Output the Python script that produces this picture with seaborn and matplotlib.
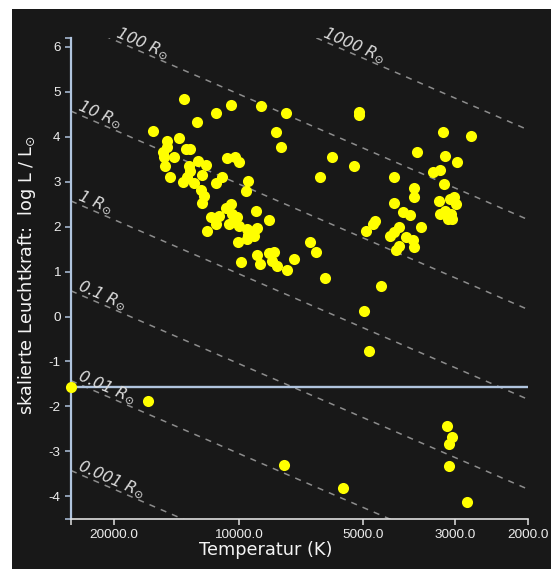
import numpy as np
import pandas as pd
import matplotlib
matplotlib.use("Agg")
import matplotlib.pyplot as plt
import seaborn as sns
from matplotlib.patches import Rectangle
from matplotlib.ticker import NullLocator

# ---------------- data ----------------
temperature = [
    16130, 13540, 12590, 11340, 10460, 8850, 7690, 8120, 7900, 13950,
    14870, 14870, 13370, 13070, 15230, 15130, 14290, 10690, 10210, 9990,
    12520, 12020, 13200, 15020, 13070, 12240, 10990, 14640, 13660, 12850,
    11370, 13310, 12360, 12130, 12240, 9490, 9580, 5950, 6370, 9100,
    10460, 10720, 11630, 11160, 11320, 11950, 10360, 10080, 9990, 10560,
    10270, 10020, 9890, 9570, 9180, 9510, 9020, 9520, 9180, 9040,
    8880, 8450, 8450, 8210, 8290, 8070, 7350, 7620, 6730, 6510,
    6200, 5130, 5130, 5270, 3200, 2740, 3710, 3170, 2970, 3400,
    3270, 3190, 4210, 3770, 3760, 3280, 3080, 3020, 2990, 3260,
    3170, 3070, 3120, 3050, 4220, 4000, 3850, 4690, 4740, 4920,
    3630, 4100, 4210, 4310, 3940, 3800, 3780, 4100, 4160, 4530,
    4990, 4840, 3140, 3050, 3100, 3100, 7770, 5610, 2810, 16580,
    25400,
]
log_luminosity = [
    4.13, 4.85, 4.33, 4.54, 4.70, 4.69, 4.54, 4.11, 3.77, 3.97,
    3.90, 3.78, 3.74, 3.73, 3.67, 3.55, 3.56, 3.54, 3.56, 3.44,
    3.47, 3.38, 3.35, 3.36, 3.24, 3.15, 3.10, 3.11, 3.00, 2.98,
    2.98, 3.10, 2.82, 2.69, 2.53, 3.01, 2.79, 3.56, 3.10, 2.36,
    2.50, 2.42, 2.22, 2.23, 2.05, 1.90, 2.28, 2.21, 2.02, 2.06,
    2.10, 1.67, 1.22, 1.94, 1.91, 1.82, 1.97, 1.72, 1.80, 1.38,
    1.16, 2.15, 1.41, 1.44, 1.24, 1.12, 1.29, 1.03, 1.65, 1.44,
    0.85, 4.56, 4.49, 3.34, 4.10, 4.01, 3.67, 3.57, 3.45, 3.21,
    3.26, 2.96, 3.10, 2.86, 2.66, 2.58, 2.62, 2.66, 2.50, 2.28,
    2.36, 2.28, 2.17, 2.16, 2.52, 2.32, 2.27, 2.13, 2.07, 1.90,
    2.00, 1.99, 1.89, 1.80, 1.76, 1.70, 1.54, 1.58, 1.47, 0.67,
    0.13, -0.77, -2.44, -2.68, -2.83, -3.33, -3.30, -3.82, -4.13, -1.87,
    -1.57,
]
radius_values = [0.001, 0.01, 0.1, 1, 10, 100, 1000]
radius_names = ["0.001", "0.01", "0.1", "1", "10", "100", "1000"]
x_ticks = [20000, 10000, 5000, 3000, 2000]
x_tick_labels = ["20000.0", "10000.0", "5000.0", "3000.0", "2000.0"]
y_ticks = [-4, -3, -2, -1, 0, 1, 2, 3, 4, 5, 6]
T_MAX, T_MIN = 25400, 2000
L_MIN, L_MAX = -4.5, 6.2
marked_level = -1.57
T_SUN = 5778

# ---------------- style ----------------
BG = "#181818"
AXIS_BLUE = "#b0c4de"
TXT = "#ececec"

sns.set_theme(style="dark", rc={"axes.facecolor": BG, "figure.facecolor": "white"})
plt.rcParams["font.family"] = ["DejaVu Sans"]

W, H = 551, 569
fig = plt.figure(figsize=(W / 100, H / 100), dpi=100)
fig.patch.set_facecolor("white")
fig.patches.append(Rectangle((12 / W, 0), (W - 12) / W, (H - 9) / H,
                             transform=fig.transFigure, facecolor=BG,
                             edgecolor="none", zorder=-10))

left, right, top, bottom = 71, 528, 38, 518.7
ax = fig.add_axes([left / W, 1 - bottom / H, (right - left) / W, (bottom - top) / H])
ax.set_facecolor(BG)
ax.set_xscale("log")
ax.set_xlim(T_MAX, T_MIN)
ax.set_ylim(L_MIN, L_MAX)
ax.grid(False)

# radius lines
p1 = ax.transData.transform((T_MAX, 0.0))
p2 = ax.transData.transform((T_MIN, 4 * np.log10(T_MIN / T_MAX)))
angle = np.degrees(np.arctan2(p2[1] - p1[1], p2[0] - p1[0]))

t_grid = np.geomspace(T_MAX, T_MIN, 300)
for R, name in zip(radius_values, radius_names):
    L = 2 * np.log10(R) + 4 * np.log10(t_grid / T_SUN)
    ax.plot(t_grid, L, color="#8c8c8c", lw=1.1, ls=(0, (4, 4)), zorder=1)
    t_top = T_SUN * 10 ** ((L_MAX - 2 * np.log10(R)) / 4)
    t0 = min(T_MAX, t_top)
    l0 = 2 * np.log10(R) + 4 * np.log10(t0 / T_SUN)
    ax.annotate(f"{name} R$_{{\\odot}}$", xy=(t0, l0), xytext=(4, 1.5),
                textcoords="offset points", rotation=angle,
                rotation_mode="anchor", ha="left", va="baseline",
                fontsize=11.3, style="italic", color="#dcdcdc",
                annotation_clip=False)

ax.axhline(marked_level, color=AXIS_BLUE, lw=1.7, zorder=2)

df = pd.DataFrame({"temperature": temperature, "log_luminosity": log_luminosity})
sns.scatterplot(data=df, x="temperature", y="log_luminosity", ax=ax,
                color="#ffff00", s=64, linewidth=0, zorder=3,
                clip_on=False, legend=False)

# axes decoration
for s in ["top", "right"]:
    ax.spines[s].set_visible(False)
ax.spines["left"].set_color(AXIS_BLUE)
ax.spines["left"].set_linewidth(1.6)
ax.spines["bottom"].set_color("#e0e0e0")
ax.spines["bottom"].set_linewidth(1.2)

ax.set_xticks(x_ticks + [T_MAX])
ax.set_xticklabels(x_tick_labels + [""])
ax.xaxis.set_minor_locator(NullLocator())
ax.set_yticks(y_ticks + [L_MIN, L_MAX])
ax.set_yticklabels([str(v) for v in y_ticks] + ["", ""])
ax.tick_params(axis="x", bottom=True, length=4.5, width=1.1, color="#e0e0e0",
               labelcolor=TXT, labelsize=9.7, pad=3)
ax.tick_params(axis="y", left=True, length=4.5, width=1.1, color=AXIS_BLUE,
               labelcolor=TXT, labelsize=9.7, pad=3)
for lab in ax.get_xticklabels() + ax.get_yticklabels():
    lab.set_fontfamily(["Liberation Sans", "DejaVu Sans"])

ax.set_xlabel("Temperatur (K)", fontsize=12.8, color="#f4f4f4")
ax.xaxis.set_label_coords((265.5 - left) / (right - left), -(555 - bottom) / (bottom - top))
ax.xaxis.label.set_verticalalignment("baseline")
ax.set_ylabel("skalierte Leuchtkraft:  log L / L$_{\\odot}$", fontsize=12.7, color="#f4f4f4")
ax.yaxis.set_label_coords(-(left - 27.5) / (right - left), (bottom - 275) / (bottom - top))
ax.yaxis.label.set_verticalalignment("center")

fig.savefig("out.png", dpi=100, facecolor=fig.get_facecolor())
